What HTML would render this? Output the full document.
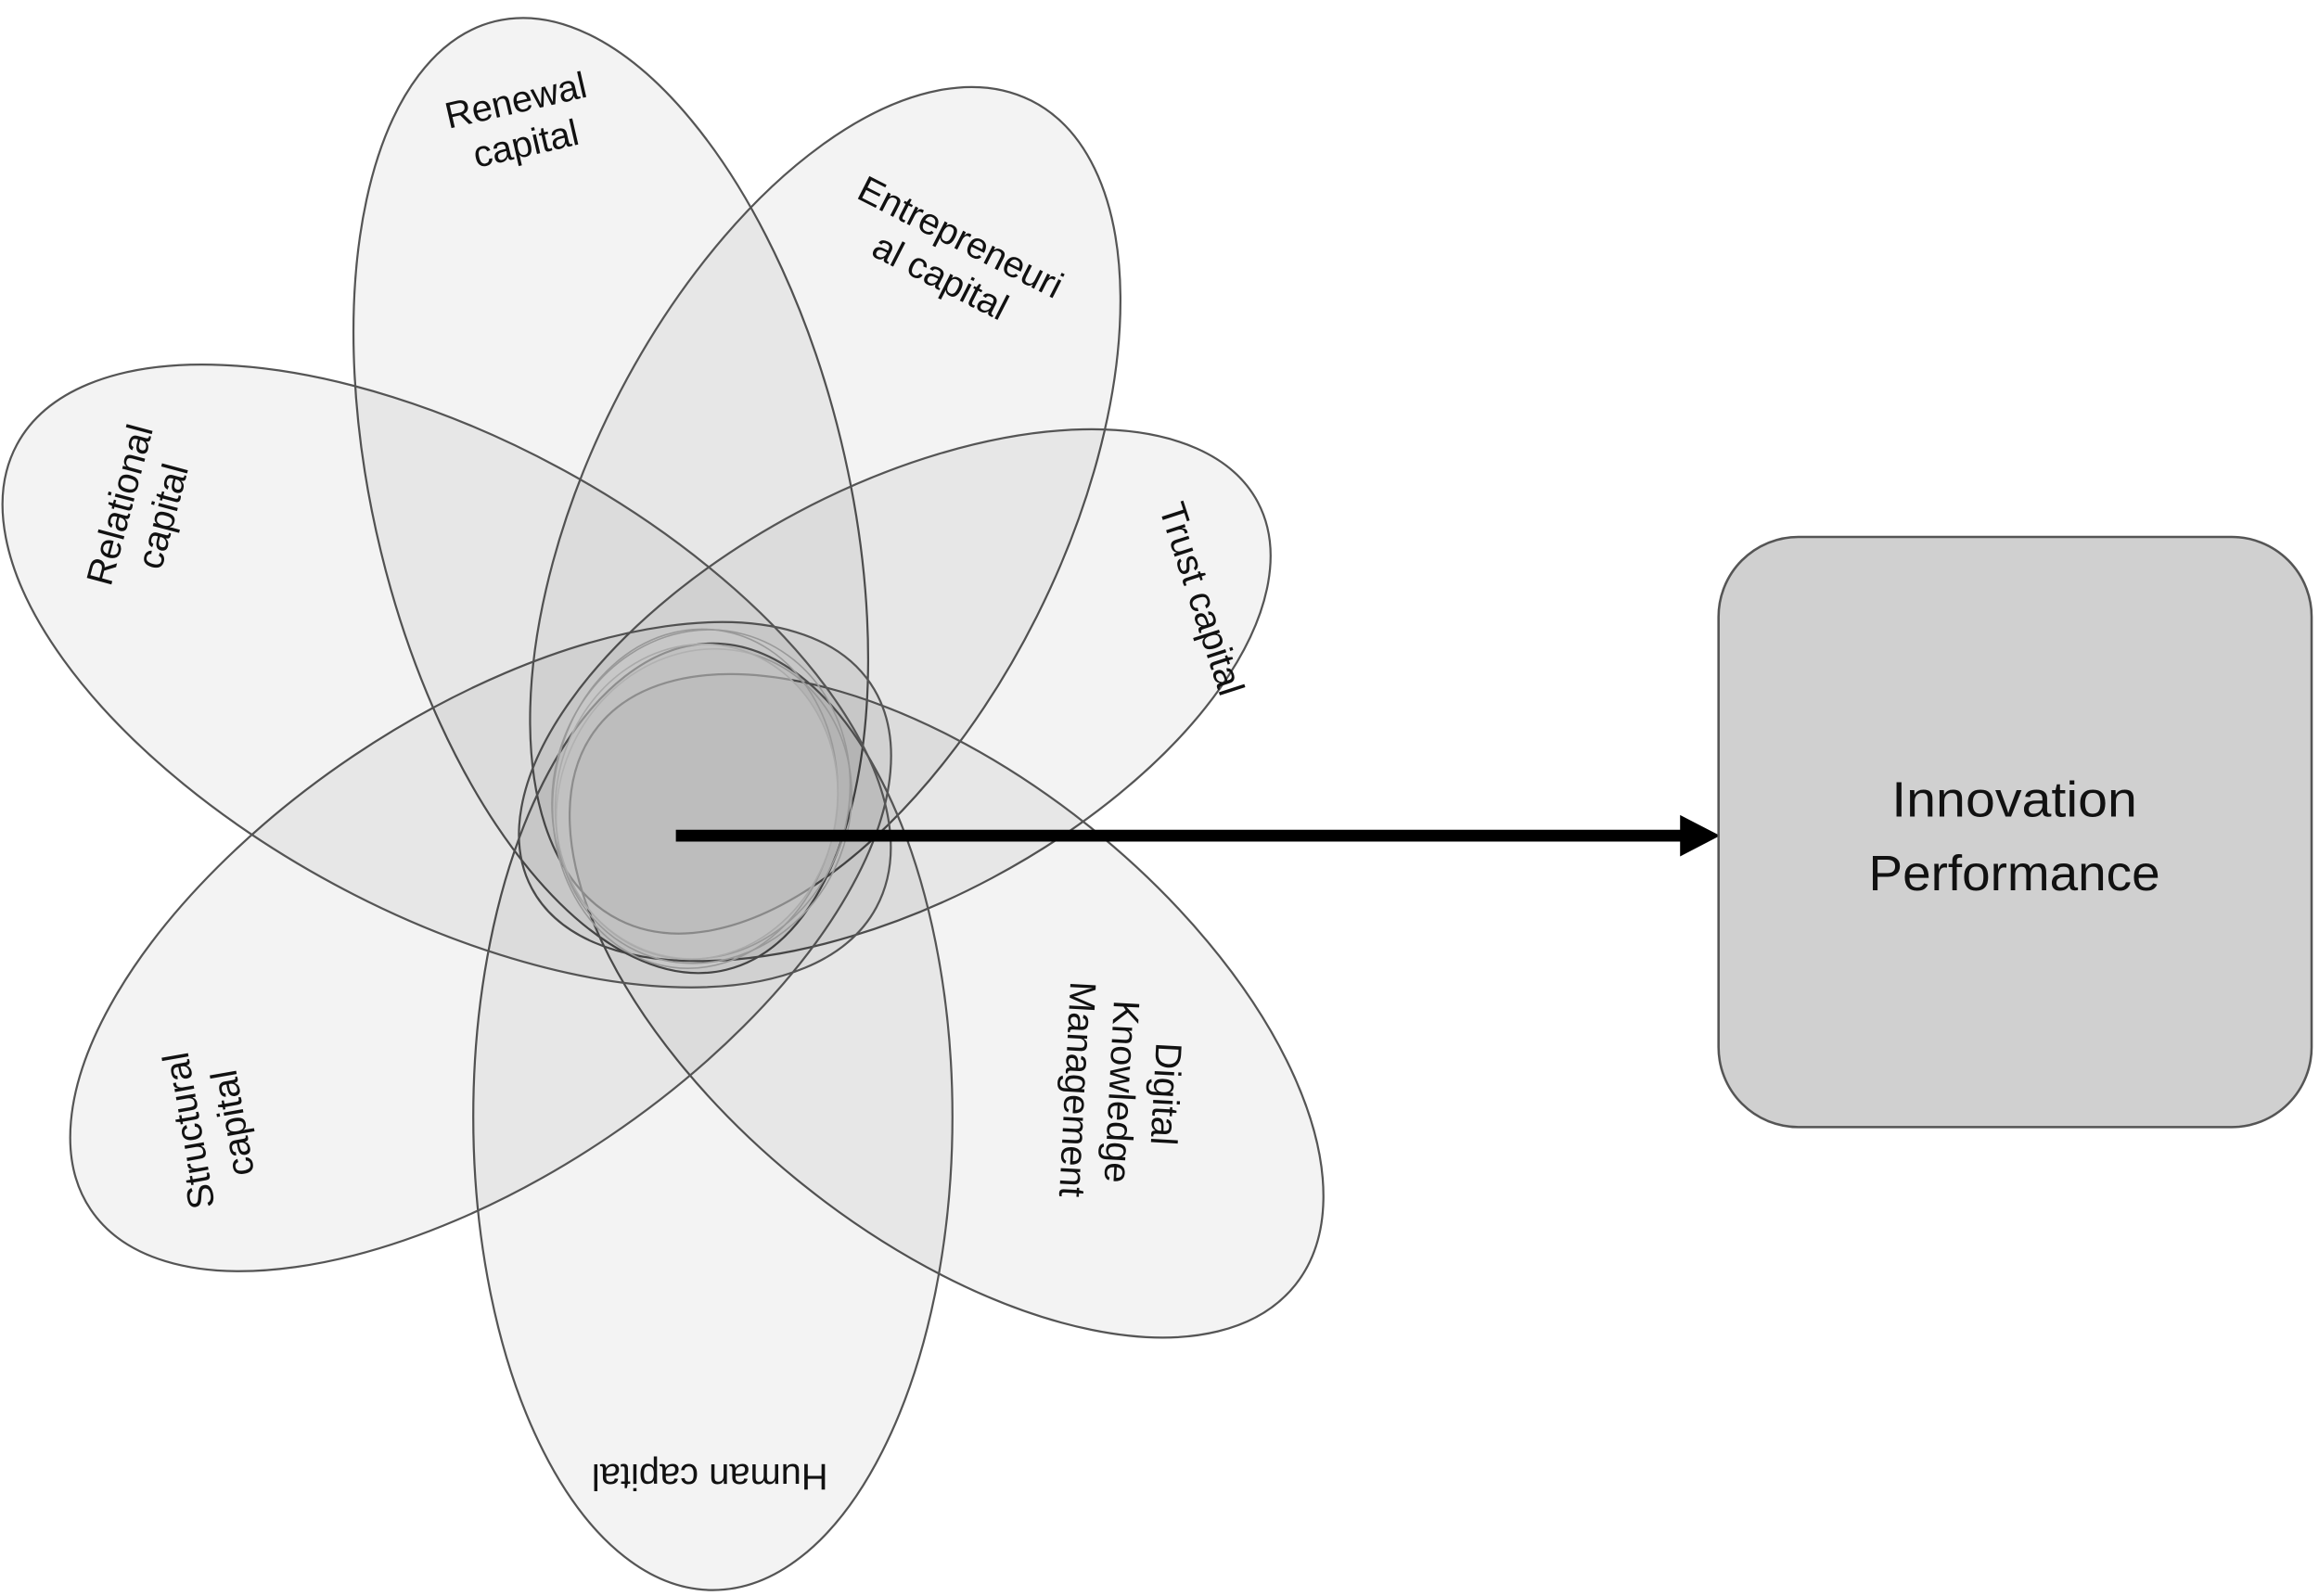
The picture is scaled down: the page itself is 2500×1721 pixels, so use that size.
<!DOCTYPE html>
<html><head><meta charset="utf-8"><style>
html,body{margin:0;padding:0;background:#fff;}
svg{display:block;}
</style></head><body>
<svg width="2500" height="1721" viewBox="0 0 1568 1079" preserveAspectRatio="none" xmlns="http://www.w3.org/2000/svg">
<rect width="1568" height="1079" fill="#fff"/>
<g fill="#000" fill-opacity="0.048" stroke="#555" stroke-width="1.4">
<ellipse cx="413" cy="335" rx="160" ry="330" transform="rotate(-13.7 413 335)"/>
<ellipse cx="558" cy="345" rx="160" ry="310" transform="rotate(26.7 558 345)"/>
<ellipse cx="605" cy="470" rx="140" ry="278" transform="rotate(62 605 470)"/>
<ellipse cx="640" cy="680" rx="155" ry="302" transform="rotate(128.7 640 680)"/>
<ellipse cx="482" cy="755" rx="162" ry="320"/>
<ellipse cx="325" cy="640" rx="155" ry="318" transform="rotate(236 325 640)"/>
<ellipse cx="302" cy="457" rx="160" ry="330" transform="rotate(-61.7 302 457)"/>
</g>
<g fill="none" stroke="#999" stroke-width="1">
<ellipse cx="474" cy="537" rx="100" ry="112" transform="rotate(15 474 537)"/>
<ellipse cx="470" cy="540" rx="96" ry="115" transform="rotate(8 470 540)"/>
<ellipse cx="476" cy="545" rx="98" ry="108" transform="rotate(25 476 545)"/>
</g>
<ellipse cx="471" cy="542" rx="95" ry="107" transform="rotate(12 471 542)" fill="#c4c4c4" fill-opacity="0.55" stroke="#aaa" stroke-width="1"/>
<line x1="457" y1="565" x2="1140" y2="565" stroke="#000" stroke-width="8"/>
<polygon points="1163,565 1136,551 1136,579" fill="#000"/>
<rect x="1162" y="363" width="401" height="399" rx="54" ry="54" fill="#d0d0d0" stroke="#555" stroke-width="1.6"/>
<g font-family="Liberation Sans, sans-serif" fill="#111" text-anchor="middle">
<text x="1362" y="552" font-size="34" textLength="166" lengthAdjust="spacingAndGlyphs">Innovation</text>
<text x="1362" y="602" font-size="34" textLength="197" lengthAdjust="spacingAndGlyphs">Performance</text>
</g>
<g font-family="Liberation Sans, sans-serif" fill="#111" text-anchor="middle" font-size="25">
<g transform="translate(352 82) rotate(-13)"><text x="0" y="-6">Renewal</text><text x="0" y="24">capital</text></g>
<g transform="translate(642 175) rotate(27)"><text x="0" y="-8">Entrepreneuri</text><text x="0" y="22">al capital</text></g>
<g transform="translate(812 405) rotate(72)"><text x="0" y="8">Trust capital</text></g>
<g transform="translate(758 738) rotate(93)"><text x="0" y="-22">Digital</text><text x="0" y="8">Knowledge</text><text x="0" y="38">Management</text></g>
<g transform="translate(480 998) rotate(180)"><text x="0" y="8">Human capital</text></g>
<g transform="translate(142 762) rotate(-100)"><text x="0" y="-6">Structural</text><text x="0" y="24">capital</text></g>
<g transform="translate(95 345) rotate(-75)"><text x="0" y="-6">Relational</text><text x="0" y="24">capital</text></g>
</g>
</svg>
</body></html>
